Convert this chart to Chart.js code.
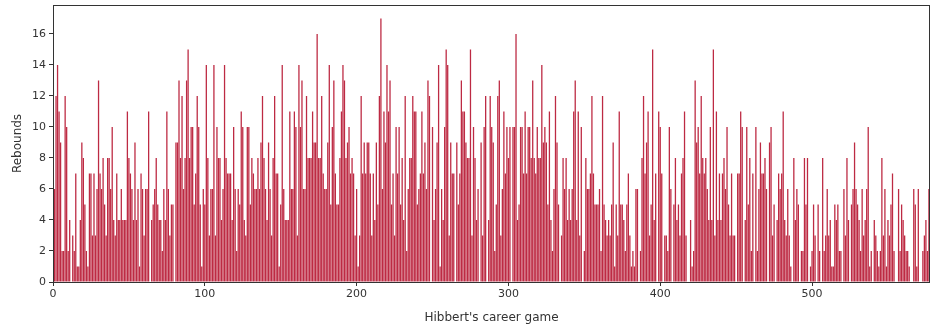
<!DOCTYPE html>
<html>
<head>
<meta charset="utf-8">
<script src="https://cdn.jsdelivr.net/npm/chart.js@4"></script>
<style>
  html, body { margin: 0; padding: 0; background: #fff; }
</style>
</head>
<body>
<canvas id="chart" width="931" height="325"></canvas>
<script>
// Rebounds per game, games 0..577
const rebounds = [
  6,6,12,14,11,9,2,2,12,10, 2,4,0,3,2,7,1,1,4,9, 8,5,2,1,7,7,3,7,3,6, 13,7,6,8,5,3,8,8,6,10, 4,3,7,4,4,6,4,4,
  4,11,8,7,6,4,9,4,6,1, 7,6,3,6,6,11,0,4,5,6, 8,5,4,4,2,6,4,11,6,3, 5,5,0,9,9,13,8,12,6,8, 13,15,8,10,10,5,7,12,10,
  5,1,6,5,14,8,3,6,6,14, 3,10,8,8,4,6,14,8,7,7, 7,4,10,6,2,6,5,11,10,4, 3,10,10,5,8,7,6,6,8,6, 9,12,8,6,4,9,6,3,
  8,12,7,7,1,5,14,6,4,4, 4,11,6,6,11,10,3,14,10,13, 6,6,12,8,8,8,11,9,9,16, 8,8,12,7,6,6,9,14,5,10, 13,7,5,5,8,11,14,13,
  8,9,10,7,8,7,3,6,1,3, 12,7,9,7,9,9,7,3,7,4, 9,5,12,17,6,11,9,14,11,13, 5,7,3,10,7,10,5,8,4,12, 2,6,8,8,12,11,11,5,
  6,7,11,7,9,6,13,12,0,10, 4,6,9,14,1,6,4,10,15,14, 3,9,7,7,0,9,5,7,13,11, 11,9,8,8,15,3,10,8,4,6, 0,9,3,10,12,0,4,12,
  10,9,2,5,12,13,3,6,11,7, 10,8,10,0,10,10,16,4,5,10, 10,7,11,7,10,10,8,13,8,7, 10,8,8,14,9,10,9,5,11,4, 2,6,12,9,5,0,3,8,
  6,8,4,6,4,6,11,13,4,11, 3,10,0,2,8,6,6,7,12,7, 5,5,5,6,2,12,5,4,3,4, 3,5,9,1,5,3,11,5,5,4, 2,5,7,3,1,2,1,6,
  6,0,2,8,12,7,9,11,3,5, 15,4,7,0,11,10,7,0,3,3, 2,10,6,0,5,8,4,5,3,7, 8,11,3,0,0,4,1,2,13,9, 10,7,12,8,7,8,6,4,
  10,4,15,3,11,4,7,4,7,8, 6,10,5,3,7,3,3,0,7,7, 11,10,0,4,10,5,8,2,7,0, 10,2,6,9,7,7,8,6,0,9, 10,3,5,0,4,7,6,7,
  11,4,3,6,3,1,0,8,4,6, 5,0,2,2,8,5,8,0,1,2, 5,3,0,5,2,0,8,2,3,6, 3,4,1,1,5,4,5,2,2,0, 6,3,8,4,0,5,6,9,
  6,5,4,2,6,3,4,6,10,1, 2,0,4,3,2,1,2,8,3,6, 1,4,3,5,7,2,0,0,6,2, 5,4,3,2,2,1,0,0,6,5, 1,6,0,0,2,3,4,2,6
];
const games = rebounds.map((_, i) => i);
const xTicks = [0, 100, 200, 300, 400, 500];
const yTicks = [0, 2, 4, 6, 8, 10, 12, 14, 16];

const ctx = document.getElementById('chart').getContext('2d');

// box around the plot area, like matplotlib spines
const frame = {
  id: 'frame',
  afterDraw(chart) {
    const a = chart.chartArea;
    const c = chart.ctx;
    c.save();
    c.strokeStyle = '#333';
    c.lineWidth = 1;
    c.strokeRect(a.left + 0.5, a.top + 0.5, a.right - a.left - 1, a.bottom - a.top);
    c.restore();
  }
};

new Chart(ctx, {
  type: 'bar',
  data: {
    datasets: [{
      data: games.map((g, i) => ({ x: g, y: rebounds[i] })),
      backgroundColor: '#bd2a43',
      borderWidth: 0,
      barPercentage: 0.85,
      categoryPercentage: 1.0
    }]
  },
  options: {
    responsive: false,
    animation: false,
    layout: { padding: { left: 0, right: 1, top: 5, bottom: 0 } },
    plugins: { legend: { display: false }, tooltip: { enabled: false } },
    scales: {
      x: {
        type: 'linear',
        offset: false,
        min: 0,
        max: 577.7,
        afterBuildTicks: s => { s.ticks = xTicks.map(v => ({ value: v })); },
        afterFit: s => { s.height = 43; s.paddingLeft = 0; s.paddingRight = 0; },
        grid: { display: true, offset: false, drawOnChartArea: false, drawTicks: true, tickLength: 4, color: '#333' },
        border: { display: false },
        ticks: { color: '#333', font: { family: 'DejaVu Sans', size: 11 }, padding: 2, maxRotation: 0 },
        title: { display: true, text: "Hibbert's career game", color: '#333', font: { family: 'DejaVu Sans', size: 12 }, padding: { top: 1, bottom: 0 } }
      },
      y: {
        min: 0,
        max: 17.87,
        afterBuildTicks: s => { s.ticks = yTicks.map(v => ({ value: v })); },
        afterFit: s => { s.width = 53; s.paddingTop = 0; s.paddingBottom = 0; },
        grid: { display: true, drawOnChartArea: false, drawTicks: true, tickLength: 4, color: '#333' },
        border: { display: false },
        ticks: { color: '#333', font: { family: 'DejaVu Sans', size: 11 }, padding: 3 },
        title: { display: true, text: 'Rebounds', color: '#333', font: { family: 'DejaVu Sans', size: 12 }, padding: { top: 11, bottom: 0 } }
      }
    }
  },
  plugins: [frame]
});
</script>
</body>
</html>
